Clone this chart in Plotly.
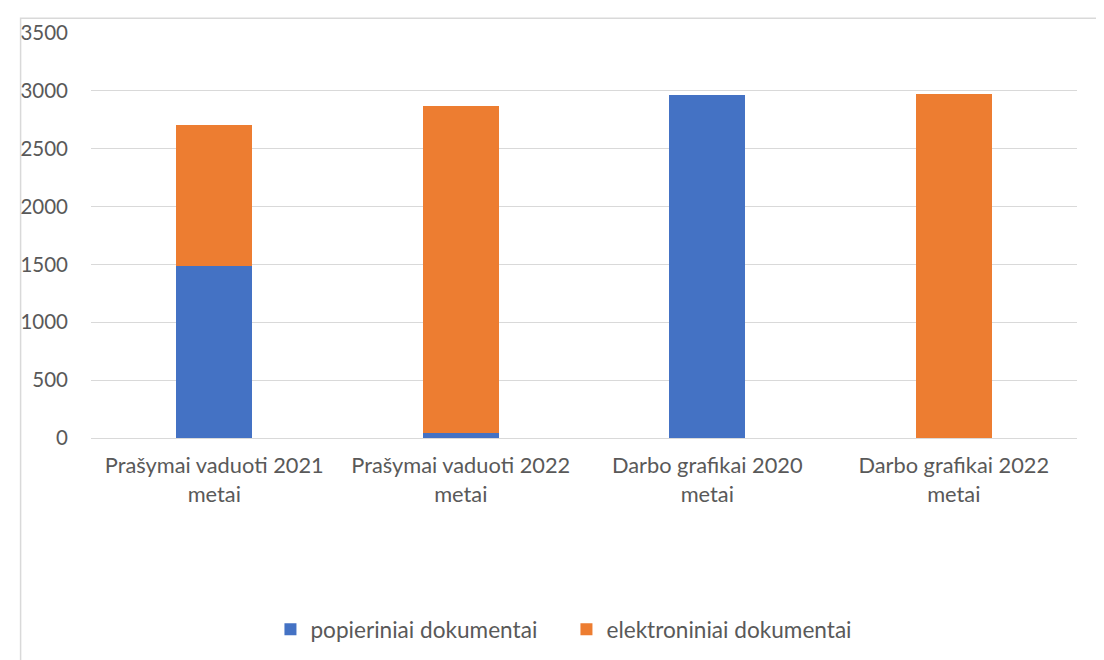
import plotly.graph_objects as go

categories = [
    "Prašymai vaduoti 2021<br>metai",
    "Prašymai vaduoti 2022<br>metai",
    "Darbo grafikai 2020<br>metai",
    "Darbo grafikai 2022<br>metai",
]
popieriniai = [1483, 40, 2960, 0]
elektroniniai = [1226, 2826, 0, 2976]

BLUE = "#4472C4"
ORANGE = "#ED7D31"
TEXT = "#595959"
GRID = "#D9D9D9"

fig = go.Figure()
fig.add_bar(x=categories, y=popieriniai, name="popieriniai dokumentai",
            marker=dict(color=BLUE, line=dict(width=0)))
fig.add_bar(x=categories, y=elektroniniai, name="elektroniniai dokumentai",
            marker=dict(color=ORANGE, line=dict(width=0)))

# page body has a small margin, margins are compensated for it
fig.update_layout(
    barmode="stack",
    bargap=0.69,
    width=1104,
    height=660,
    margin=dict(l=74, r=35, t=16, b=230),
    paper_bgcolor="white",
    plot_bgcolor="white",
    font=dict(family="Lato, 'Open Sans', sans-serif", size=21, color=TEXT),
    xaxis=dict(showline=True, linecolor=GRID, linewidth=1, ticks="",
               ticklabelstandoff=8, tickfont=dict(size=21.8, color=TEXT)),
    yaxis=dict(range=[0, 3500], dtick=500, showgrid=True, gridcolor=GRID,
               gridwidth=1, zeroline=False, ticks="", ticklabelstandoff=22,
               tickfont=dict(size=20.5, color=TEXT)),
    legend=dict(orientation="h", x=0.182, xanchor="left", y=-0.473,
                yanchor="middle", font=dict(size=22.6, color=TEXT),
                itemwidth=30, entrywidth=251, traceorder="normal"),
    shapes=[dict(type="rect", xref="paper", yref="paper",
                 x0=-0.0714, x1=1.2, y0=-0.7, y1=1.0366,
                 line=dict(color=GRID, width=1.5), layer="below")],
)

fig.write_html("out.html")
